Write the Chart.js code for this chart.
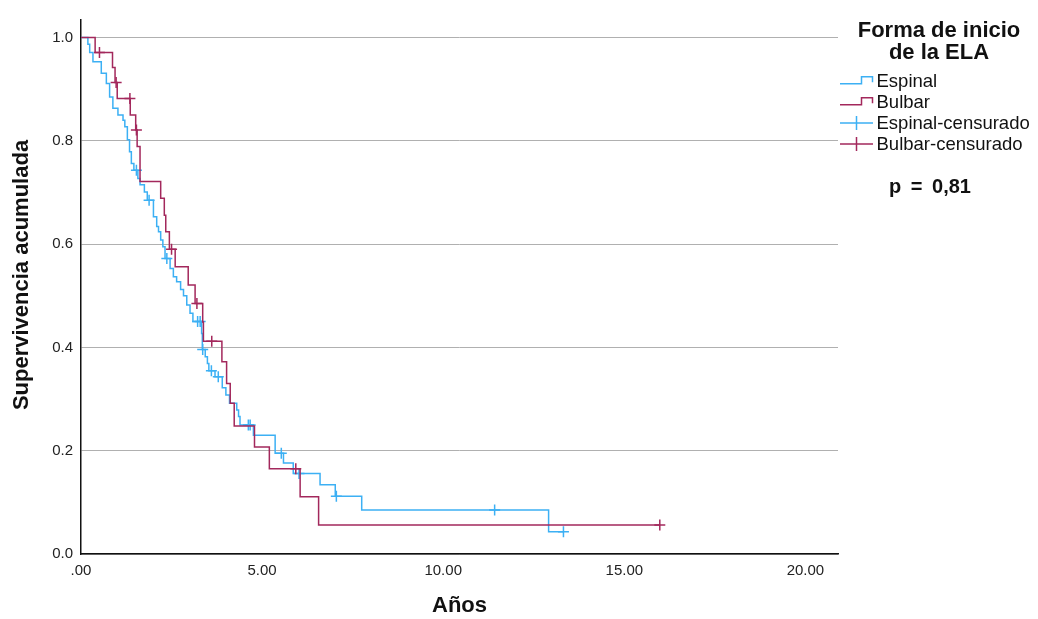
<!DOCTYPE html>
<html><head><meta charset="utf-8">
<script src="https://cdn.jsdelivr.net/npm/chart.js@4.4.1/dist/chart.umd.min.js"></script>
<style>html,body{margin:0;padding:0;background:#fff;}#wrap{width:1038px;height:619px;position:relative;}</style>
</head><body><div id="wrap"><canvas id="c" width="1038" height="619"></canvas></div>
<script>
// ---- data ----
const espinalTimes = [0, 0.19, 0.24, 0.33, 0.56, 0.70, 0.79, 0.88, 1.02, 1.16, 1.21, 1.28, 1.34, 1.39, 1.46, 1.57, 1.63, 1.75, 1.83, 2.00, 2.09, 2.14, 2.20, 2.26, 2.32, 2.46, 2.55, 2.64, 2.75, 2.83, 2.92, 3.01, 3.09, 3.33, 3.35, 3.43, 3.49, 3.53, 3.70, 3.90, 4.00, 4.10, 4.30, 4.35, 4.39, 4.76, 5.36, 5.59, 5.86, 6.60, 7.02, 7.75, 12.91, 13.32];
const espinalSurv = [1, 0.987, 0.971, 0.953, 0.931, 0.911, 0.885, 0.863, 0.850, 0.840, 0.827, 0.802, 0.779, 0.756, 0.743, 0.727, 0.715, 0.701, 0.685, 0.653, 0.634, 0.624, 0.608, 0.595, 0.572, 0.553, 0.537, 0.527, 0.512, 0.500, 0.482, 0.466, 0.450, 0.427, 0.396, 0.382, 0.369, 0.355, 0.343, 0.322, 0.308, 0.292, 0.279, 0.266, 0.250, 0.230, 0.195, 0.176, 0.156, 0.134, 0.112, 0.085, 0.043, 0.043];
const espinalCensTimes = [1.53, 1.88, 2.37, 3.22, 3.29, 3.36, 3.60, 3.79, 4.62, 4.67, 5.53, 6.02, 7.05, 11.42, 13.32];
const espinalCensSurv = [0.743, 0.685, 0.572, 0.450, 0.450, 0.396, 0.355, 0.343, 0.250, 0.250, 0.195, 0.156, 0.112, 0.085, 0.043];

const bulbarTimes = [0, 0.39, 0.87, 0.94, 1.00, 1.36, 1.51, 1.55, 1.63, 2.20, 2.30, 2.34, 2.44, 2.60, 2.96, 3.15, 3.36, 3.38, 3.89, 4.02, 4.12, 4.23, 4.79, 5.20, 6.05, 6.56, 15.98];
const bulbarSurv = [1, 0.971, 0.942, 0.913, 0.882, 0.850, 0.821, 0.789, 0.721, 0.689, 0.656, 0.624, 0.590, 0.556, 0.521, 0.485, 0.449, 0.412, 0.372, 0.330, 0.292, 0.248, 0.207, 0.165, 0.111, 0.056, 0.056];
const bulbarCensTimes = [0.51, 0.97, 1.35, 1.53, 2.50, 3.20, 3.61, 5.93, 15.98];
const bulbarCensSurv = [0.971, 0.913, 0.882, 0.821, 0.590, 0.485, 0.412, 0.165, 0.056];

const xTicks = [0, 5, 10, 15, 20];
const xTickLabels = ['.00', '5.00', '10.00', '15.00', '20.00'];
const yTicks = [0, 0.2, 0.4, 0.6, 0.8, 1.0];
const yTickLabels = ['0.0', '0.2', '0.4', '0.6', '0.8', '1.0'];

const legendTitleLines = ['Forma de inicio', 'de la ELA'];
const legendLabels = ['Espinal', 'Bulbar', 'Espinal-censurado', 'Bulbar-censurado'];
const pValueText = 'p = 0,81';

// ---- styles ----
const BLUE = '#3cb0f4';
const RED = '#a3285c';
const FONT = '"Liberation Sans", Arial, sans-serif';

const pts = (xs, ys) => xs.map((x, i) => ({x: x, y: ys[i]}));

const legendPlugin = {
  id: 'kmLegend',
  afterDraw(chart) {
    const ctx = chart.ctx;
    ctx.save();
    ctx.fillStyle = '#111';
    ctx.textBaseline = 'alphabetic';
    ctx.textAlign = 'center';
    ctx.font = 'bold 22px ' + FONT;
    legendTitleLines.forEach((l, i) => ctx.fillText(l, 939, 37 + i * 21.7));
    const colors = [BLUE, RED, BLUE, RED];
    const base = 87.3;
    ctx.textAlign = 'left';
    ctx.font = '18.5px ' + FONT;
    legendLabels.forEach((lab, i) => {
      const b = base + i * 20.9;
      ctx.strokeStyle = colors[i];
      ctx.lineWidth = 1.5;
      ctx.beginPath();
      if (i < 2) {
        ctx.moveTo(840, b - 3.5);
        ctx.lineTo(861.5, b - 3.5);
        ctx.lineTo(861.5, b - 10.5);
        ctx.lineTo(872.5, b - 10.5);
        ctx.lineTo(872.5, b - 5);
      } else {
        ctx.moveTo(840, b - 6);
        ctx.lineTo(873, b - 6);
        ctx.moveTo(856.5, b - 13);
        ctx.lineTo(856.5, b + 1);
      }
      ctx.stroke();
      ctx.fillStyle = '#111';
      ctx.fillText(lab, 876.5, b);
    });
    ctx.font = 'bold 20px ' + FONT;
    if ('wordSpacing' in ctx) ctx.wordSpacing = '4px';
    ctx.fillText(pValueText, 889, 193);
    ctx.restore();
  }
};

// shift the y-axis title a little upward, as in the reference
function liftTitle(s) {
  if (s._lifted) return;
  const orig = s.drawTitle;
  s.drawTitle = function () {
    const c = this.ctx;
    c.save();
    c.translate(0, -12);
    orig.call(this);
    c.restore();
  };
  s._lifted = true;
}

new Chart(document.getElementById('c'), {
  type: 'line',
  data: {
    datasets: [
      {label: 'Espinal', data: pts(espinalTimes, espinalSurv), borderColor: BLUE, borderWidth: 1.5,
       stepped: 'before', pointRadius: 0, fill: false, order: 2},
      {label: 'Bulbar', data: pts(bulbarTimes, bulbarSurv), borderColor: RED, borderWidth: 1.5,
       stepped: 'before', pointRadius: 0, fill: false, order: 1},
      {label: 'Espinal-censurado', type: 'scatter', data: pts(espinalCensTimes, espinalCensSurv),
       showLine: false, pointStyle: 'cross', pointRadius: 5.5, pointBorderWidth: 1.5,
       borderColor: BLUE, backgroundColor: BLUE, order: 2},
      {label: 'Bulbar-censurado', type: 'scatter', data: pts(bulbarCensTimes, bulbarCensSurv),
       showLine: false, pointStyle: 'cross', pointRadius: 5.5, pointBorderWidth: 1.5,
       borderColor: RED, backgroundColor: RED, order: 1}
    ]
  },
  options: {
    responsive: false,
    animation: false,
    devicePixelRatio: 1,
    layout: {padding: {top: 20, right: 200, left: 0, bottom: 0}},
    plugins: {legend: {display: false}, tooltip: {enabled: false}},
    scales: {
      x: {
        type: 'linear', min: 0, max: 20.9,
        afterBuildTicks: s => { s.ticks = xTicks.map(v => ({value: v})); },
        afterFit: s => { s.height = 65; },
        ticks: {callback: (v, i) => xTickLabels[i], color: '#222', font: {family: FONT, size: 15}, padding: 8, maxRotation: 0, autoSkip: false},
        grid: {display: false, drawTicks: false},
        border: {display: true, color: '#111', width: 1.5},
        title: {display: true, text: 'Años', color: '#111', font: {family: FONT, size: 22, weight: 'bold', lineHeight: 1.2}, padding: {top: 0, bottom: 0}}
      },
      y: {
        type: 'linear', min: 0, max: 1.0339,
        afterBuildTicks: s => { s.ticks = yTicks.map(v => ({value: v})); },
        afterFit: s => { s.width = 81; liftTitle(s); },
        ticks: {callback: (v, i) => yTickLabels[i], color: '#222', font: {family: FONT, size: 15}, padding: 8, autoSkip: false},
        grid: {display: true, color: '#b0b0b0', lineWidth: 1, drawTicks: false},
        border: {display: true, color: '#111', width: 1.5},
        title: {display: true, text: 'Supervivencia acumulada', color: '#111', font: {family: FONT, size: 22, weight: 'bold', lineHeight: 1.2}, padding: {top: 9, bottom: 0}}
      }
    }
  },
  plugins: [legendPlugin]
});
</script>
</body></html>
